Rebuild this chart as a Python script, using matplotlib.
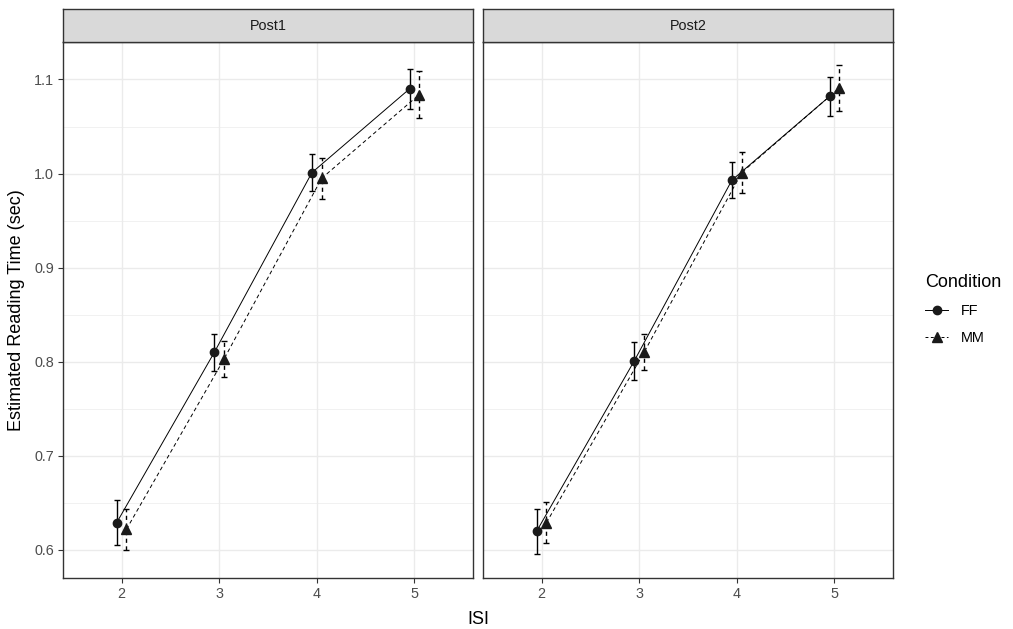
"""Estimated reading time by ISI, faceted by test session."""

import matplotlib

matplotlib.use("Agg")
import matplotlib.pyplot as plt
from matplotlib.lines import Line2D
from matplotlib.patches import Rectangle

plt.rcParams["font.family"] = ["Liberation Sans", "DejaVu Sans"]

# data
isi = [2, 3, 4, 5]
sessions = ["Post1", "Post2"]
conditions = ["FF", "MM"]
means = {
    ("Post1", "FF"): [0.629, 0.810, 1.001, 1.090],
    ("Post1", "MM"): [0.622, 0.803, 0.995, 1.084],
    ("Post2", "FF"): [0.620, 0.801, 0.993, 1.082],
    ("Post2", "MM"): [0.629, 0.810, 1.001, 1.091],
}
ses = {
    ("Post1", "FF"): [0.024, 0.020, 0.020, 0.021],
    ("Post1", "MM"): [0.022, 0.019, 0.022, 0.025],
    ("Post2", "FF"): [0.024, 0.020, 0.019, 0.021],
    ("Post2", "MM"): [0.022, 0.019, 0.022, 0.024],
}

styles = {
    "FF": dict(marker="o", ls="-", offset=-0.05),
    "MM": dict(marker="^", ls="--", offset=0.05),
}

GRID = "#EBEBEB"
BORDER = "#333333"
TICK_TXT = "#4D4D4D"


def main():
    fig = plt.figure(figsize=(10.13, 6.29), dpi=100)
    W, H = 1013, 629
    lefts = [63, 483]
    pw = 410
    top, bottom = 42, 578

    for s, left in zip(sessions, lefts):
        ax = fig.add_axes([left / W, 1 - bottom / H, pw / W, (bottom - top) / H])
        for c in conditions:
            st = styles[c]
            xs = [x + st["offset"] for x in isi]
            ax.plot(xs, means[(s, c)], color="black", lw=0.7, ls=st["ls"],
                    dashes=(4, 3) if st["ls"] == "--" else (None, None), zorder=3)
            eb = ax.errorbar(xs, means[(s, c)], yerr=ses[(s, c)], fmt="none",
                             ecolor="black", elinewidth=1.0, capsize=2.5,
                             capthick=1.0, zorder=3)
            if st["ls"] == "--":
                eb[2][0].set_linestyle((0, (3, 2.5)))
            ax.plot(xs, means[(s, c)], ls="none", marker=st["marker"],
                    color="#1A1A1A", ms=6 if c == "FF" else 6.5, mec="#1A1A1A",
                    zorder=4)

        ax.set_xlim(1.4, 5.6)
        ax.set_ylim(0.5702, 1.1398)
        ax.set_xticks(isi)
        ax.set_yticks([0.6, 0.7, 0.8, 0.9, 1.0, 1.1])
        ax.set_yticks([0.65, 0.75, 0.85, 0.95, 1.05], minor=True)
        ax.grid(True, which="major", color=GRID, lw=1.0, zorder=0)
        ax.grid(True, which="minor", axis="y", color=GRID, lw=0.5, zorder=0)
        ax.set_axisbelow(True)
        for sp in ax.spines.values():
            sp.set_color(BORDER)
            sp.set_linewidth(1.0)
        ax.tick_params(which="major", length=3.5, width=0.8, color=BORDER,
                       labelsize=10.4, labelcolor=TICK_TXT, pad=3)
        ax.tick_params(which="minor", length=0)
        if left != lefts[0]:
            ax.tick_params(axis="y", left=False, labelleft=False)

        # facet strip
        sax = fig.add_axes([left / W, 1 - top / H, pw / W, (top - 9) / H])
        sax.add_patch(Rectangle((0, 0), 1, 1, transform=sax.transAxes,
                                facecolor="#D9D9D9", edgecolor="none"))
        sax.set_xticks([])
        sax.set_yticks([])
        for sp in sax.spines.values():
            sp.set_color(BORDER)
            sp.set_linewidth(1.0)
        sax.text(0.5, 0.5, s, ha="center", va="center", fontsize=10.4,
                 color="#1A1A1A", transform=sax.transAxes)

    fig.text(478 / W, 1 - 619 / H, "ISI", ha="center", va="center",
             fontsize=13, color="black")
    fig.text(17 / W, 1 - 310 / H, "Estimated Reading Time (sec)", ha="center",
             va="center", rotation=90, fontsize=13, color="black")

    handles = [
        Line2D([], [], color="black", lw=0.7, ls="-", marker="o", ms=6,
               mfc="#1A1A1A", mec="#1A1A1A"),
        Line2D([], [], color="black", lw=0.7, ls=(0, (3, 2.5)), marker="^",
               ms=6.5, mfc="#1A1A1A", mec="#1A1A1A"),
    ]
    fig.legend(handles, conditions, title="Condition", loc="upper left",
               bbox_to_anchor=(912 / W, 1 - 261 / H), frameon=False,
               fontsize=10.4, title_fontsize=13, handlelength=1.6,
               handletextpad=0.9, labelspacing=0.9, alignment="left")

    fig.savefig("out.png", dpi=100)


if __name__ == "__main__":
    main()
